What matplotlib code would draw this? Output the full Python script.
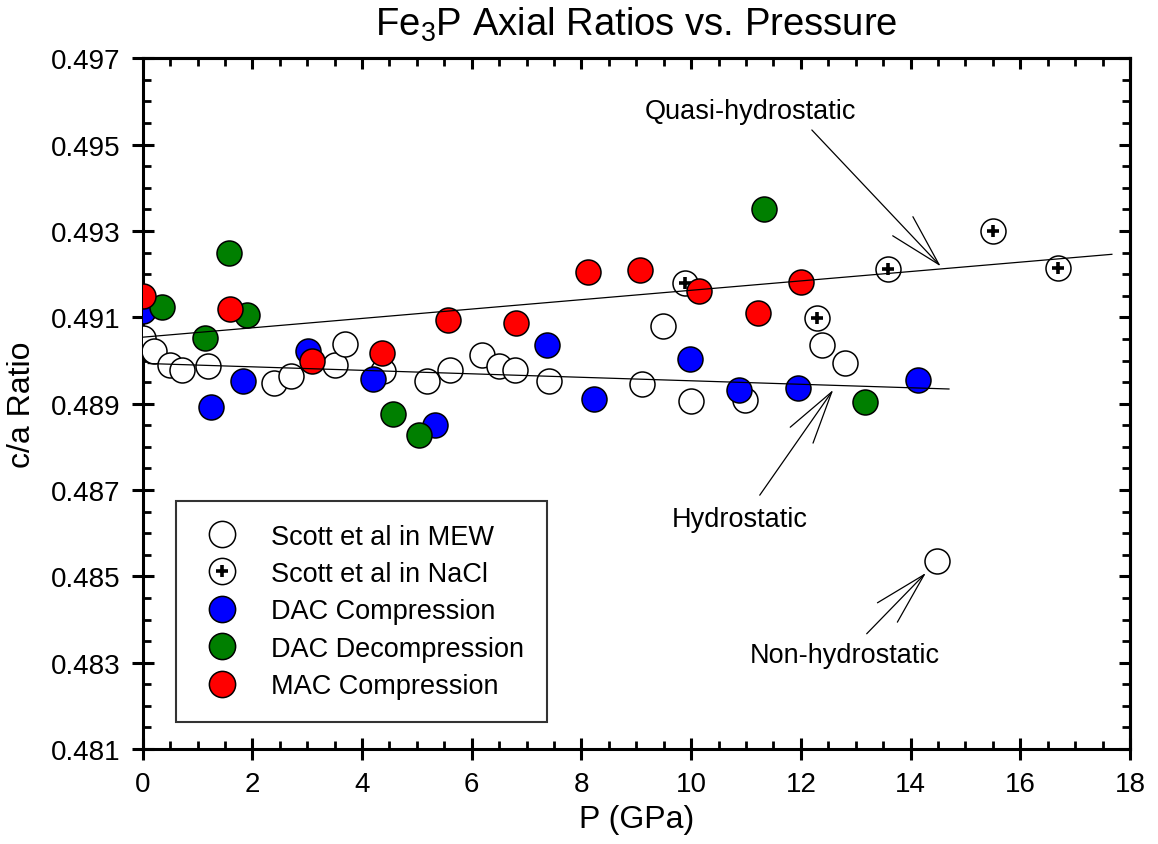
import matplotlib
matplotlib.use("Agg")
import matplotlib.pyplot as plt
from matplotlib.ticker import MultipleLocator, FixedLocator, FormatStrFormatter

plt.rcParams['font.family'] = ['Liberation Sans', 'DejaVu Sans']
plt.rcParams['mathtext.fontset'] = 'custom'
plt.rcParams['mathtext.rm'] = 'Liberation Sans'

# Scott et al in MEW
mew_p = [0.0, 0.21, 0.50, 0.71, 1.20, 2.39, 2.70, 3.51, 3.69, 4.39, 5.19, 5.60,
         6.18, 6.50, 6.79, 7.40, 9.10, 9.49, 9.99, 10.99, 12.39, 12.80, 14.49]
mew_r = [0.49051, 0.49023, 0.48990, 0.48979, 0.48988, 0.48948, 0.48963, 0.48989,
         0.49039, 0.48976, 0.48952, 0.48979, 0.49013, 0.48988, 0.48978, 0.48953,
         0.48946, 0.49079, 0.48906, 0.48909, 0.49036, 0.48994, 0.48536]

# Scott et al in NaCl
nacl_p = [9.89, 12.30, 13.59, 15.50, 16.69]
nacl_r = [0.49179, 0.49098, 0.49212, 0.49301, 0.49214]

# DAC compression
dacc_p = [0.0, 1.25, 1.83, 3.01, 4.20, 5.33, 7.38, 8.22, 9.97, 10.88, 11.94, 14.13]
dacc_r = [0.49115, 0.48892, 0.48953, 0.49021, 0.48956, 0.48851, 0.49036, 0.48911,
          0.49003, 0.48932, 0.48936, 0.48954]

# DAC decompression
dacd_p = [0.35, 1.14, 1.57, 1.91, 4.56, 5.04, 11.33, 13.17]
dacd_r = [0.49125, 0.49052, 0.49248, 0.49106, 0.48876, 0.48828, 0.49351, 0.48903]

# MAC compression
mac_p = [0.0, 1.59, 3.09, 4.36, 5.57, 6.80, 8.12, 9.07, 10.15, 11.21, 12.00]
mac_r = [0.49150, 0.49119, 0.48999, 0.49017, 0.49094, 0.49088, 0.49204, 0.49210,
         0.49160, 0.49109, 0.49183]

# fit lines
quasi_p = [0.0, 17.67]
quasi_r = [0.49054, 0.49246]
hydro_p = [0.10, 14.70]
hydro_r = [0.48993, 0.48934]

yticks = [0.481, 0.483, 0.485, 0.487, 0.489, 0.491, 0.493, 0.495, 0.497]

fig = plt.figure(figsize=(11.58, 8.45), dpi=100)
ax = fig.add_axes([0.1232, 0.1124, 0.8526, 0.8174])

ms = 18
mew_lw = 1.1
ax.plot(mew_p, mew_r, 'o', ms=ms, mfc='white', mec='black', mew=mew_lw,
        label='Scott et al in MEW', zorder=3)
nacl_c, = ax.plot(nacl_p, nacl_r, 'o', ms=ms, mfc='white', mec='black', mew=mew_lw, zorder=3)
nacl_x, = ax.plot(nacl_p, nacl_r, '+', ms=8, mec='black', mew=2.6, zorder=3)
ax.plot(dacc_p, dacc_r, 'o', ms=ms, mfc='#0000ff', mec='black', mew=mew_lw,
        label='DAC Compression', zorder=3)
ax.plot(dacd_p, dacd_r, 'o', ms=ms, mfc='#007f00', mec='black', mew=mew_lw,
        label='DAC Decompression', zorder=3)
ax.plot(mac_p, mac_r, 'o', ms=ms, mfc='#ff0000', mec='black', mew=mew_lw,
        label='MAC Compression', zorder=3)

ax.plot(quasi_p, quasi_r, color='black', lw=0.9, zorder=4)
ax.plot(hydro_p, hydro_r, color='black', lw=0.9, zorder=4)

arrow = dict(arrowstyle='->,head_length=1.9,head_width=0.5', color='black', lw=0.9,
             mutation_scale=20, shrinkA=0, shrinkB=0)
ax.annotate('', xy=(14.55, 0.49218), xytext=(12.20, 0.49534), arrowprops=arrow)
ax.text(9.16, 0.49579, 'Quasi-hydrostatic', fontsize=19.5, va='center', ha='left')
ax.annotate('', xy=(12.59, 0.48932), xytext=(11.25, 0.48688), arrowprops=arrow)
ax.text(9.64, 0.48633, 'Hydrostatic', fontsize=19.5, va='center', ha='left')
ax.annotate('', xy=(14.28, 0.48508), xytext=(13.20, 0.48367), arrowprops=arrow)
ax.text(11.07, 0.48318, 'Non-hydrostatic', fontsize=19.5, va='center', ha='left')

ax.set_xlim(0, 18)
ax.set_ylim(0.481, 0.497)
ax.xaxis.set_major_locator(MultipleLocator(2))
ax.xaxis.set_minor_locator(MultipleLocator(0.5))
ax.yaxis.set_major_locator(FixedLocator(yticks))
ax.yaxis.set_minor_locator(MultipleLocator(0.0005))
ax.yaxis.set_major_formatter(FormatStrFormatter('%.3f'))

for s in ax.spines.values():
    s.set_linewidth(2.2)
ax.tick_params(which='major', direction='inout', length=16, width=2.2,
               labelsize=20, pad=8)
ax.tick_params(which='minor', direction='in', length=6, width=2.0)

# inward ticks on top and right
top = ax.secondary_xaxis('top')
top.xaxis.set_major_locator(MultipleLocator(2))
top.xaxis.set_minor_locator(MultipleLocator(0.5))
top.tick_params(which='major', direction='in', length=8, width=2.2, labeltop=False)
top.tick_params(which='minor', direction='in', length=6, width=2.0)
right = ax.secondary_yaxis('right')
right.yaxis.set_major_locator(FixedLocator(yticks))
right.yaxis.set_minor_locator(MultipleLocator(0.0005))
right.tick_params(which='major', direction='in', length=8, width=2.2, labelright=False)
right.tick_params(which='minor', direction='in', length=6, width=2.0)
for sec in (top, right):
    for s in sec.spines.values():
        s.set_linewidth(2.2)

ax.set_xlabel('P (GPa)', fontsize=23, labelpad=5)
ax.set_ylabel('c/a Ratio', fontsize=23, labelpad=10)
ax.set_title('Fe$_3$P Axial Ratios vs. Pressure', fontsize=27.5, pad=17)

handles, labels = ax.get_legend_handles_labels()
handles.insert(1, (nacl_c, nacl_x))
labels.insert(1, 'Scott et al in NaCl')
leg = ax.legend(handles, labels, loc='lower left', bbox_to_anchor=(0.034, 0.039),
                fontsize=19.5, frameon=True, fancybox=False, edgecolor='black',
                borderpad=0.85, labelspacing=0.42, handlelength=1.65, handletextpad=1.0,
                borderaxespad=0, markerscale=1.05)
leg.get_frame().set_linewidth(1.5)

fig.savefig('out.png', dpi=100)
